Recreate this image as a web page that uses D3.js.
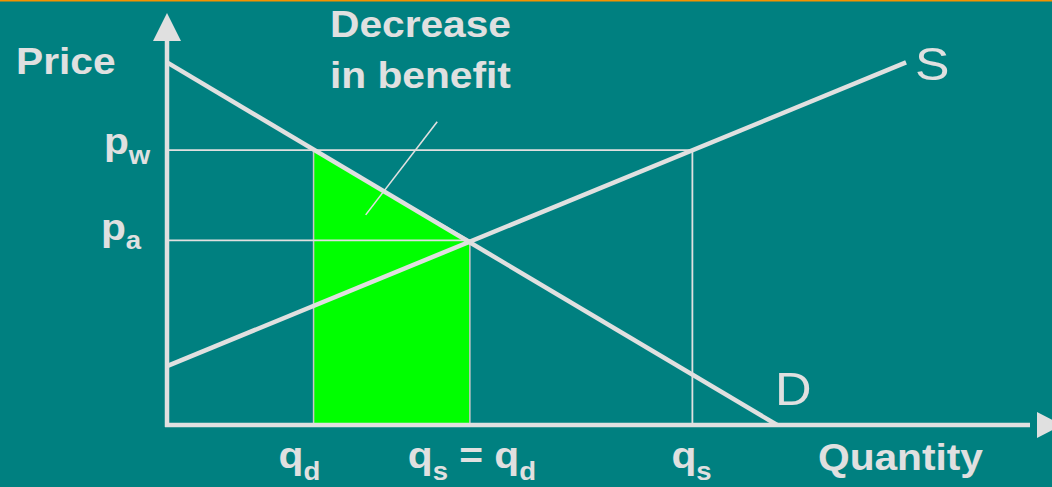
<!DOCTYPE html>
<html><head><meta charset="utf-8">
<script src="https://cdn.jsdelivr.net/npm/d3@7"></script>
<style>html,body{margin:0;padding:0;background:#008080;overflow:hidden}svg{display:block}</style>
</head><body>
<script>
// ---- data (abstract units) ----
const demand = [{q: 0, p: 88}, {q: 69.1, p: 0}];
const supply = [{q: 0, p: 14.3}, {q: 83.7, p: 88}];
const prices = [{name: "w", value: 66.7}, {name: "a", value: 44.8}];
const quantities = {qd: 16.6, qeq: 34.3, qs: 59.5};
const pointer = [{q: 30.6, p: 73.6}, {q: 22.5, p: 51}];
const axisTitles = ["Price", "Quantity"];
const curveLabels = ["S", "D"];
const annotation = ["Decrease", "in benefit"];

const W = 1052, H = 487;
const fg = "#e0e0e0";
const x = d3.scaleLinear().domain([0, 100]).range([167, 1050]);
const y = d3.scaleLinear().domain([0, 100]).range([425, 13]);

const svg = d3.select("body").append("svg").attr("width", W).attr("height", H);
svg.append("rect").attr("width", W).attr("height", H).attr("fill", "#008080");
svg.append("rect").attr("width", W).attr("height", 1.5).attr("fill", "#f39200");

const line = d3.line().x(d => x(d.q)).y(d => y(d.p));

// green area
const area = [
  {q: quantities.qd, p: 0},
  {q: quantities.qd, p: prices[0].value},
  {q: quantities.qeq, p: prices[1].value},
  {q: quantities.qeq, p: 0}
];
svg.append("path").attr("d", line(area) + "Z").attr("fill", "#00ff00")
  .attr("stroke", "#c8c8c8").attr("stroke-width", 1.5);

// reference lines
const thin = 1.8;
svg.append("path").attr("d", line([{q: 0, p: prices[0].value}, {q: quantities.qs, p: prices[0].value}, {q: quantities.qs, p: 0}]))
  .attr("fill", "none").attr("stroke", fg).attr("stroke-width", thin);
svg.append("path").attr("d", line([{q: 0, p: prices[1].value}, {q: quantities.qeq, p: prices[1].value}]))
  .attr("fill", "none").attr("stroke", fg).attr("stroke-width", thin);

// curves
svg.append("path").attr("d", line(demand)).attr("fill", "none").attr("stroke", fg).attr("stroke-width", 4.5);
svg.append("path").attr("d", line(supply)).attr("fill", "none").attr("stroke", fg).attr("stroke-width", 4.5);

// pointer
svg.append("path").attr("d", line(pointer)).attr("fill", "none").attr("stroke", fg).attr("stroke-width", 1.6);

// axes
const x0 = x(0), y0 = y(0);
svg.append("line").attr("x1", x0).attr("y1", y0 + 2).attr("x2", x0).attr("y2", y(100) + 20)
  .attr("stroke", fg).attr("stroke-width", 4.5);
svg.append("path").attr("d", `M${x0},${y(100)} L${x0 - 14},${y(100) + 28} L${x0 + 14},${y(100) + 28}Z`).attr("fill", fg);
svg.append("line").attr("x1", x0 - 2).attr("y1", y0).attr("x2", x(100) - 20).attr("y2", y0)
  .attr("stroke", fg).attr("stroke-width", 4.5);
svg.append("path").attr("d", `M${x(100) + 12},${y0} L${x(100) - 13},${y0 - 13} L${x(100) - 13},${y0 + 13}Z`).attr("fill", fg);

// text helpers
const font = "Arial, 'Liberation Sans', sans-serif";
const sx = 1.1;
function txt(tx, ty, size, weight) {
  return svg.append("text").attr("transform", `translate(${tx},${ty}) scale(${sx},1)`)
    .attr("font-family", font).attr("font-size", size).attr("font-weight", weight).attr("fill", fg);
}
txt(16, 74, 37, "bold").text(axisTitles[0]);
txt(818, 470, 37, "bold").text(axisTitles[1]);
txt(330, 37, 37, "bold").text(annotation[0]);
txt(330, 88, 37, "bold").text(annotation[1]);
txt(915, 80, 47, "normal").text(curveLabels[0]);
txt(775, 405, 46, "normal").text(curveLabels[1]);

// price labels
function sub(t, main, s, dy) {
  t.append("tspan").text(main);
  t.append("tspan").attr("font-size", 25).attr("dy", dy).text(s);
}
sub(txt(104, y(prices[0].value) + 4, 37, "bold"), "p", prices[0].name, 10);
sub(txt(101, y(prices[1].value) + 0, 37, "bold"), "p", prices[1].name, 9);

// quantity labels
const qy = 468;
const sdy = 12;
sub(txt(x(quantities.qd) - 35, qy, 37, "bold"), "q", "d", sdy);
{
  const t = txt(x(quantities.qeq) - 62, qy, 37, "bold");
  t.append("tspan").text("q");
  t.append("tspan").attr("font-size", 25).attr("dy", sdy).text("s");
  t.append("tspan").attr("dy", -sdy).text(" = q");
  t.append("tspan").attr("font-size", 25).attr("dy", sdy).text("d");
}
sub(txt(x(quantities.qs) - 21, qy, 37, "bold"), "q", "s", sdy);
</script>
</body></html>
